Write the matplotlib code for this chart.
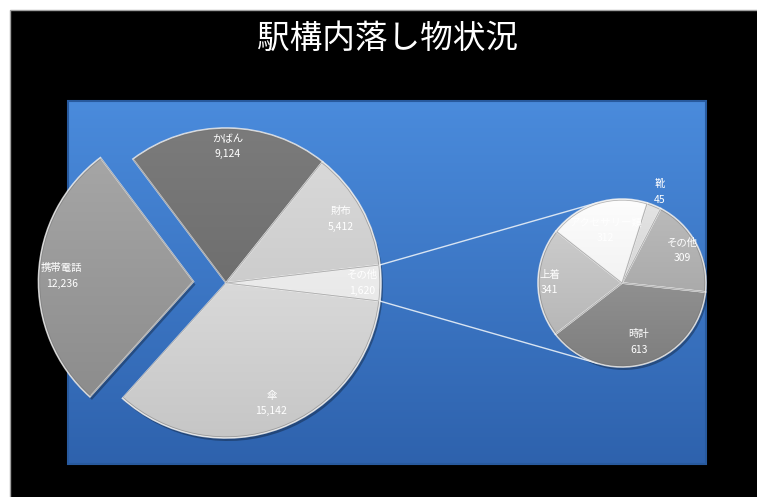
import numpy as np
import matplotlib
matplotlib.use("Agg")
import matplotlib.pyplot as plt
from matplotlib.colors import LinearSegmentedColormap
from matplotlib.patches import Rectangle, Wedge

plt.rcParams["font.family"] = ["Noto Sans CJK JP", "DejaVu Sans"]

TITLE = "駅構内落し物状況"

# main pie (その他 is broken out into the small pie)
MAIN_LABELS = ["その他", "傘", "携帯電話", "かばん", "財布"]
MAIN_VALUES = [1620, 15142, 12236, 9124, 5412]

SUB_LABELS = ["靴", "その他", "時計", "上着", "アクセサリー類"]
SUB_VALUES = [45, 309, 613, 341, 312]

# (top, bottom) shades for each slice
MAIN_SHADES = [("#f7f7f7", "#dedede"), ("#ececec", "#c6c6c6"), ("#a9a9a9", "#888888"),
               ("#7b7b7b", "#626262"), ("#dcdcdc", "#bdbdbd")]
SUB_SHADES = [("#e4e4e4", "#c8c8c8"), ("#bcbcbc", "#9c9c9c"), ("#a2a2a2", "#7e7e7e"),
              ("#d2d2d2", "#b0b0b0"), ("#fdfdfd", "#e8e8e8")]
MAIN_EXPLODE = [0, 0, 0.21, 0, 0]   # fraction of radius
MAIN_LABEL_R = [0.88, 0.83, 0.85, 0.88, 0.85]
SUB_LABEL_R = [1.17, 0.82, 0.73, 0.86, 0.66]

W, H = 757, 497
fig = plt.figure(figsize=(W / 100, H / 100), dpi=100, facecolor="white")
ax = fig.add_axes([0, 0, 1, 1])
ax.set_facecolor("white")

# black chart area with thin grey rim
ax.add_patch(Rectangle((10, -20), W + 20, H - 10 + 20, facecolor="black",
                       edgecolor="#a0a0a0", linewidth=1.0, zorder=0))

# blue plot area with vertical gradient
px0, px1, py0, py1 = 68, 706, H - 464, H - 101
blue = LinearSegmentedColormap.from_list("blue", ["#2e62ad", "#4a8bdc"])
ax.imshow(np.linspace(0, 1, 256).reshape(-1, 1), origin="lower", cmap=blue,
          extent=(px0, px1, py0, py1), aspect="auto", zorder=0.5)
ax.add_patch(Rectangle((px0, py0), px1 - px0, py1 - py0, fill=False,
                       edgecolor="#285a9e", linewidth=1.5, zorder=0.6))

ax.text(387, H - 39, TITLE, color="white", fontsize=23.5, ha="center", va="center")


def shaded_pie(values, shades, center, radius, start, explode=None):
    if explode is not None:
        explode = [e * radius for e in explode]
    wedges, _ = ax.pie(values, startangle=start, counterclock=False, radius=radius,
                       center=center, explode=explode, frame=True,
                       colors=[s[1] for s in shades],
                       wedgeprops=dict(linewidth=0, zorder=2))
    grad = np.linspace(0, 1, 256).reshape(-1, 1)
    for w, (top, bot) in zip(wedges, shades):
        cx, cy = w.center
        # drop shadow
        ax.add_patch(Wedge((cx + 2, cy - 3), w.r, w.theta1, w.theta2,
                           facecolor="black", alpha=0.3, linewidth=0, zorder=1.5))
        cmap = LinearSegmentedColormap.from_list("s", [bot, top])
        im = ax.imshow(grad, origin="lower", cmap=cmap, aspect="auto",
                       extent=(cx - w.r, cx + w.r, cy - w.r, cy + w.r), zorder=2.5)
        im.set_clip_path(w)
        # bevel highlight along the slice edge
        ax.add_patch(Wedge((cx, cy), w.r, w.theta1, w.theta2, fill=False,
                           edgecolor="#f2f2f2", linewidth=1.2, alpha=0.8, zorder=3))
        ax.add_patch(Wedge((cx, cy), w.r - 1.2, w.theta1, w.theta2, fill=False,
                           edgecolor="#707070", linewidth=0.6, alpha=0.5, zorder=3))
    return wedges


def put_labels(wedges, labels, values, dists):
    for w, lab, val, d in zip(wedges, labels, values, dists):
        mid = np.deg2rad((w.theta1 + w.theta2) / 2)
        cx, cy = w.center
        x, y = cx + d * w.r * np.cos(mid), cy + d * w.r * np.sin(mid)
        ax.text(x, y, f"{lab}\n{val:,}", color="white", fontsize=7.5,
                ha="center", va="center", linespacing=1.7, zorder=5)


main_c, main_r = (226, H - 283), 155
sub_c, sub_r = (622, H - 283), 84

main_start = 180 * MAIN_VALUES[0] / sum(MAIN_VALUES)
main_w = shaded_pie(MAIN_VALUES, MAIN_SHADES, main_c, main_r, main_start, MAIN_EXPLODE)
sub_w = shaded_pie(SUB_VALUES, SUB_SHADES, sub_c, sub_r, 72.5)

# connector lines from the broken-out slice to the small pie
other = main_w[0]
for th_main, th_sub in ((other.theta2, 107), (other.theta1, -107)):
    a, b = np.deg2rad(th_main), np.deg2rad(th_sub)
    ax.plot([main_c[0] + main_r * np.cos(a), sub_c[0] + sub_r * np.cos(b)],
            [main_c[1] + main_r * np.sin(a), sub_c[1] + sub_r * np.sin(b)],
            color="#d8e4f2", linewidth=1.0, zorder=1.8)

put_labels(main_w, MAIN_LABELS, MAIN_VALUES, MAIN_LABEL_R)
put_labels(sub_w, SUB_LABELS, SUB_VALUES, SUB_LABEL_R)

ax.set_xlim(0, W)
ax.set_ylim(0, H)
ax.set_aspect("equal")
ax.axis("off")

fig.savefig("out.png", dpi=100, facecolor="white")
